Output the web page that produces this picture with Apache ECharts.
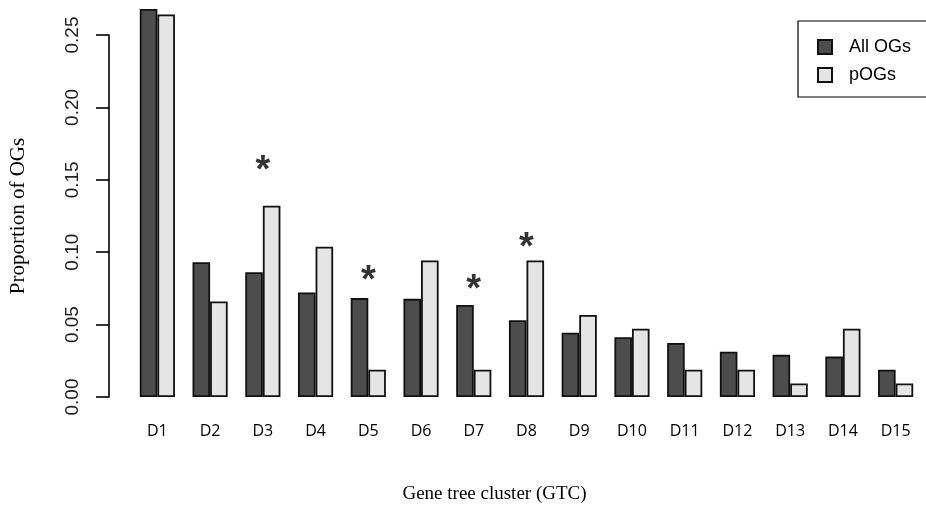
<!DOCTYPE html>
<html>
<head>
<meta charset="utf-8">
<script src="https://cdn.jsdelivr.net/npm/echarts@6/dist/echarts.min.js"></script>
<style>
html,body{margin:0;padding:0;background:#fff;}
#chart{width:926px;height:509px;}
</style>
</head>
<body>
<div id="chart"></div>
<script>
const categories = ['D1','D2','D3','D4','D5','D6','D7','D8','D9','D10','D11','D12','D13','D14','D15'];
const allOGs = [0.268,0.0931,0.0862,0.0722,0.0683,0.0678,0.0635,0.0530,0.0444,0.0413,0.0373,0.0312,0.0291,0.0279,0.0188];
const pOGs   = [0.2642,0.0660,0.1321,0.1038,0.0189,0.0943,0.0189,0.0943,0.0566,0.0472,0.0189,0.0189,0.0094,0.0472,0.0094];
const starCats = ['D3','D5','D7','D8'];
const starY    = [0.1623,0.0864,0.0807,0.1093];
const yTicks = [0,0.05,0.10,0.15,0.20,0.25];

const chart = echarts.init(document.getElementById('chart'));
const barBorder = {borderColor:'#111', borderWidth:1.8};
chart.setOption({
  animation:false,
  backgroundColor:'#fff',
  grid:{left:127, right:4, top:35, bottom:110.7, containLabel:false},
  legend:{
    orient:'vertical', left:798, top:21,
    padding:[16,60,12,19], itemGap:8,
    borderColor:'#000', borderWidth:1.2,
    itemWidth:14, itemHeight:14, icon:'rect',
    textStyle:{fontFamily:'Liberation Sans', fontSize:18, color:'#000', lineHeight:20, padding:[0,0,0,12]},
    data:['All OGs','pOGs']
  },
  xAxis:{
    type:'category', data:categories,
    axisLine:{show:false}, axisTick:{show:false},
    axisLabel:{fontFamily:'Open Sans', fontSize:16, color:'#000', margin:26, interval:0},
    name:'Gene tree cluster (GTC)', nameLocation:'middle', nameGap:88,
    nameTextStyle:{fontFamily:'Liberation Serif', fontSize:19, color:'#000', padding:[0,64,0,0]}
  },
  yAxis:{
    type:'value', min:yTicks[0], max:yTicks[yTicks.length-1], interval:0.05, offset:22,
    axisLine:{show:true, lineStyle:{color:'#000', width:1.6}},
    axisTick:{show:true, length:13, lineStyle:{color:'#000', width:1.6}},
    splitLine:{show:false},
    axisLabel:{rotate:90, formatter:v=>v.toFixed(2), fontFamily:'Liberation Sans', fontSize:19, color:'#222', margin:27},
    name:'Proportion of OGs', nameLocation:'middle', nameGap:80,
    nameTextStyle:{fontFamily:'Liberation Serif', fontSize:21, color:'#000'}
  },
  series:[
    {name:'All OGs', type:'bar', data:allOGs, clip:false, barGap:'0%', barCategoryGap:'33.33%',
     itemStyle:Object.assign({color:'#4d4d4d'}, barBorder)},
    {name:'pOGs', type:'bar', data:pOGs, clip:false, barGap:'0%', barCategoryGap:'33.33%',
     itemStyle:Object.assign({color:'#e5e5e5'}, barBorder)},
    {name:'sig', type:'scatter', symbolSize:1, itemStyle:{color:'rgba(0,0,0,0)'},
     data:starCats.map((c,i)=>[c, starY[i]]),
     label:{show:true, position:'inside', formatter:'*', fontFamily:'Liberation Sans', fontWeight:'bold', fontSize:38, color:'#000', offset:[0,10]}}
  ]
});
</script>
</body>
</html>
